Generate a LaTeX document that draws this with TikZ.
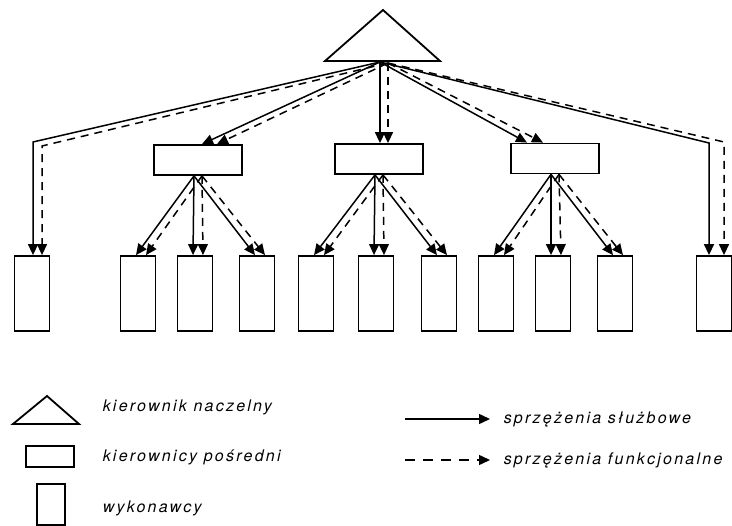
\documentclass[tikz,border=0pt]{standalone}
\usepackage{fontspec}
\setmainfont{TeX Gyre Heros}
\usetikzlibrary{arrows.meta, calc}

\begin{document}
\begin{tikzpicture}[x=1pt, y=-1pt, line width=1.5pt,
    midbox/.style={draw, line width=1.8pt, minimum width=88pt, minimum height=30pt, inner sep=0pt},
    workbox/.style={draw, line width=1.8pt, minimum width=35pt, minimum height=75pt, inner sep=0pt},
    serv/.style={-{Triangle[length=11pt, width=10pt]}},
    func/.style={serv, dash pattern=on 8pt off 6pt},
    legtext/.style={anchor=base west, inner sep=0pt, font=\fontsize{16}{18}\selectfont\itshape\addfontfeatures{LetterSpace=14}}]
    \useasboundingbox (0,0) rectangle (732,526);

    % Chief
    \draw[line width=1.8pt] (325,61) -- (383,10) -- (440,61) -- cycle;
    \coordinate (chief) at (380,62);
    \coordinate (chiefd) at (388,63);

    % Middle managers
    \node[midbox] (m1) at (198,160) {};
    \node[midbox] (m2) at (379,159) {};
    \node[midbox] (m3) at (555,158.5) {};

    % Workers
    \foreach \x [count=\i] in {32,138,195,257,316,376,439,496,553,615,714}
        \node[workbox] (w\i) at (\x,293.5) {};

    % Chief to outer workers
    \coordinate (lc) at (33,142);
    \coordinate (lcd) at (42,146);
    \coordinate (rc) at (709,143);
    \coordinate (rcd) at (724,142);
    \draw[serv] (chief) -- (lc) -- (lc |- w1.north);
    \draw[func] (chiefd) -- (lcd) -- (lcd |- w1.north);
    \draw[serv] (chief) -- (rc) -- (rc |- w11.north);
    \draw[func] (chiefd) -- (rcd) -- (rcd |- w11.north);

    % Chief to middle managers
    \draw[serv] (chief) -- ($(m1.north)+(4,0)$);
    \draw[func] (chiefd) -- ($(m1.north)+(19,0)$);
    \draw[serv] (chief) -- (chief |- m2.north);
    \draw[func] (chiefd) -- (chiefd |- m2.north);
    \draw[serv] (chief) -- ($(m3.north)+(-28,0)$);
    \draw[func] (chiefd) -- ($(m3.north)+(-12,0)$);

    % Middle managers to workers
    \foreach \m/\a/\b/\c in {1/2/3/4, 2/5/6/7, 3/8/9/10} {
        \foreach \w in {\a,\b,\c} {
            \draw[serv] ($(m\m.south)+(-4,0)$) -- ($(w\w.north)+(-2,0)$);
            \draw[func] ($(m\m.south)+(4,0)$) -- ($(w\w.north)+(8,0)$);
        }
    }

    % Legend
    \draw[line width=1.8pt] (13,424) -- (47,396) -- (79,424) -- cycle;
    \node[midbox, minimum width=48pt, minimum height=21pt] (lmid) at (50,456.5) {};
    \node[workbox, minimum width=28pt, minimum height=41pt] (lwork) at (51,504.5) {};
    \node[legtext] (t1) at (102,412) {kierownik naczelny};
    \node[legtext] (t2) at (102,462) {kierownicy pośredni};
    \node[legtext] (t3) at (102,513) {wykonawcy};

    \coordinate (s1) at (405,419);
    \coordinate (s2) at (490,419);
    \coordinate (f1) at (405,460);
    \coordinate (f2) at (490,460);
    \draw[serv] (s1) -- (s2);
    \draw[func, dash pattern=on 10pt off 8pt] (f1) -- (f2);
    \node[legtext] (t4) at (503,424) {sprzężenia służbowe};
    \node[legtext] (t5) at (503,465) {sprzężenia funkcjonalne};
\end{tikzpicture}
\end{document}
